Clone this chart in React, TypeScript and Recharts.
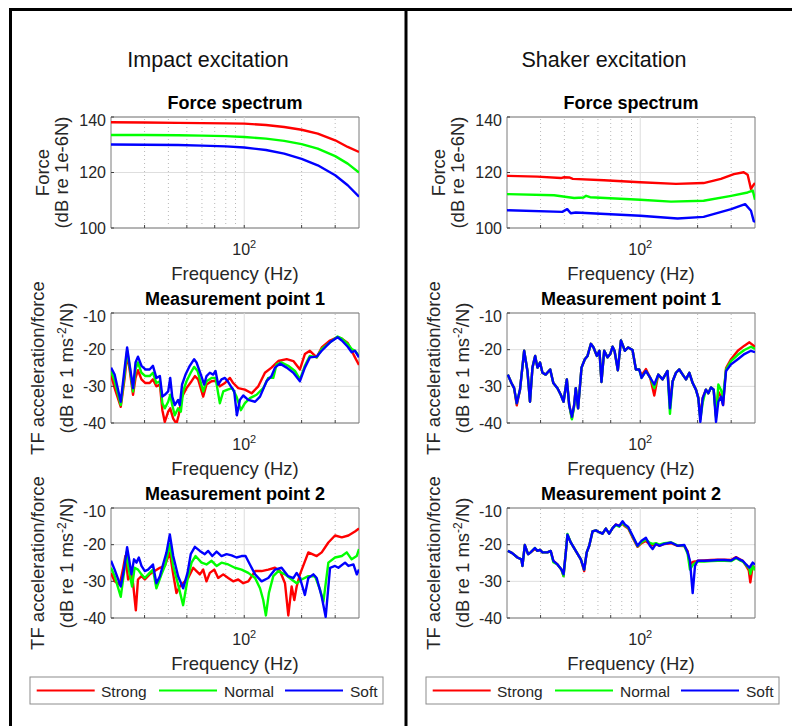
import {
  CartesianGrid,
  Line,
  LineChart,
  ReferenceArea,
  ReferenceLine,
  XAxis,
  YAxis,
} from "recharts";

type Pt = [number, number];

const FONT = '"Liberation Sans", Arial, Helvetica, sans-serif';

// frequency axis (Hz, log)
const freqDomain: [number, number] = [20, 400];
const minorFreqs = [30, 40, 50, 60, 70, 80, 90, 200, 300];
const freqTicks = [30, 40, 50, 60, 70, 80, 90, 100, 200, 300];

const forceDomain: [number, number] = [100, 140];
const forceTicks = [100, 120, 140];
const tfDomain: [number, number] = [-40, -10];
const tfTicks = [-40, -30, -20, -10];

const seriesNames = ["Strong", "Normal", "Soft"];
const seriesColors = ["#ff0000", "#00ff00", "#0000ff"];
const columnTitles = ["Impact excitation", "Shaker excitation"];
const panelTitles = ["Force spectrum", "Measurement point 1", "Measurement point 2"];

// ---- impact excitation ----
const impactForceStrong: Pt[] = [
  [20, 138.1], [30, 138.0], [45, 137.9], [60, 137.8], [80, 137.7], [100, 137.6],
  [130, 137.1], [162, 136.4], [200, 135.4], [243, 134.0], [300, 131.6], [349, 129.2], [400, 127.4],
];
const impactForceNormal: Pt[] = [
  [20, 133.5], [30, 133.5], [45, 133.4], [60, 133.3], [80, 133.1], [100, 132.8],
  [130, 132.2], [162, 131.4], [200, 130.2], [243, 128.6], [300, 125.9], [349, 123.2], [400, 120.0],
];
const impactForceSoft: Pt[] = [
  [20, 130.1], [30, 130.0], [45, 129.9], [60, 129.7], [80, 129.4], [100, 129.0],
  [130, 128.1], [162, 126.8], [200, 124.9], [243, 122.6], [300, 119.0], [349, 115.4], [400, 111.3],
];

const impactP1Strong: Pt[] = [
  [20, -26.8], [20.9, -30.5], [22.5, -35.6], [23.6, -27.7], [24.3, -21.2], [25.1, -25.8], [26.1, -32.3],
  [26.9, -27.7], [27.7, -25.6], [28.9, -28.1], [30.3, -29.1], [31.9, -29.1], [33.2, -28.1], [34.6, -30.0],
  [36.1, -29.5], [37.2, -36.5], [38.3, -39.7], [39.9, -36.9], [40.9, -36.0], [42.4, -38.8], [44.1, -40.2],
  [45.3, -37.9], [47.2, -32.8], [49.8, -30.5], [52.9, -28.6], [55.1, -27.2], [57.3, -28.1], [60.9, -32.8],
  [63.4, -29.5], [67.4, -28.6], [71.6, -28.4], [74.5, -30.0], [79.2, -29.1], [84.1, -27.7], [87.5, -29.1],
  [93.0, -30.5], [100.8, -30.9], [109.3, -31.9], [118.5, -30.0], [128.4, -26.3], [139, -24.9], [150.9, -23.1],
  [167, -22.6], [181, -23.1], [196, -25.4], [208, -21.2], [221, -20.3], [240, -22.1], [255, -19.4],
  [282, -17.5], [309, -16.6], [325, -17.0], [349, -18.2], [366, -20.3], [381, -22.1], [400, -24.2],
];
const impactP1Normal: Pt[] = [
  [20, -25.8], [20.9, -28.6], [22.5, -35.1], [23.6, -26.3], [24.3, -20.3], [25.1, -24.9], [26.1, -31.4],
  [26.9, -25.4], [27.7, -23.5], [28.9, -26.3], [30.3, -27.2], [31.9, -27.2], [33.2, -26.3], [34.6, -29.1],
  [36.1, -28.6], [37.2, -34.6], [38.3, -36.0], [39.9, -34.2], [40.9, -32.3], [41.9, -35.1], [43.2, -37.9],
  [45.0, -36.0], [46.5, -36.9], [47.8, -31.4], [49.8, -28.6], [52.4, -26.3], [54.6, -24.7], [56.9, -25.8],
  [60.9, -31.4], [63.4, -28.6], [67.4, -27.7], [70.7, -27.7], [74.5, -34.6], [77.6, -31.4], [81.8, -30.9],
  [86.5, -30.5], [91.1, -32.8], [96.0, -36.5], [100.8, -34.6], [107.1, -33.2], [116.1, -32.3], [125.8, -30.5],
  [133.7, -27.7], [142, -27.7], [147.9, -24.0], [157, -23.5], [170, -24.4], [184.6, -25.8], [196, -28.1],
  [208, -24.4], [221, -21.7], [240, -22.1], [255, -19.8], [282, -18.0], [309, -16.4], [325, -17.0],
  [349, -18.4], [366, -19.8], [381, -20.3], [400, -21.7],
];
const impactP1Soft: Pt[] = [
  [20, -24.9], [20.9, -26.8], [22.5, -34.2], [23.6, -24.9], [24.3, -19.4], [25.1, -24.4], [26.1, -30.5],
  [26.9, -23.5], [27.7, -21.9], [28.9, -24.4], [30.3, -25.4], [31.9, -25.4], [33.2, -24.4], [34.6, -27.7],
  [36.1, -27.2], [37.2, -32.8], [38.3, -32.3], [39.9, -31.4], [40.9, -27.7], [41.9, -32.8], [43.2, -35.1],
  [45.0, -33.7], [45.9, -35.1], [47.2, -29.5], [49.2, -26.8], [51.8, -24.4], [54.6, -22.6], [56.2, -23.5],
  [59.2, -26.8], [61.6, -29.5], [63.4, -27.2], [66.0, -26.3], [68.7, -26.8], [70.7, -25.8], [73.0, -29.5],
  [76.0, -28.1], [79.2, -27.7], [81.8, -28.6], [85.1, -30.0], [88.6, -31.4], [91.5, -37.9], [94.9, -33.7],
  [98.8, -32.5], [105, -33.7], [114, -34.2], [121, -32.8], [131, -28.6], [139, -27.2], [145, -24.9],
  [154, -23.8], [167, -24.9], [181, -26.3], [196, -28.6], [208, -24.9], [221, -22.1], [240, -21.9],
  [255, -20.3], [282, -18.0], [309, -16.6], [325, -17.5], [349, -19.2], [366, -20.7], [381, -20.3], [400, -22.1],
];

const impactP2Strong: Pt[] = [
  [20, -27.7], [20.9, -30.0], [22.2, -30.9], [23.1, -26.8], [23.8, -23.1], [24.6, -29.5], [25.6, -28.1],
  [26.1, -30.5], [27.0, -37.9], [27.7, -29.5], [28.9, -28.6], [30.1, -29.5], [31.9, -28.1], [33.9, -27.2],
  [36.1, -26.3], [38.3, -25.8], [40.7, -22.1], [42.4, -28.1], [44.1, -33.2], [45.9, -31.4], [47.8, -30.5],
  [50.8, -29.1], [54.0, -26.3], [56.2, -27.2], [58.5, -28.1], [60.9, -26.8], [63.4, -30.0], [66.0, -27.7],
  [69.6, -26.8], [73.0, -29.1], [77.6, -28.1], [82.4, -29.1], [87.5, -30.0], [93.0, -29.5], [98.8, -30.5],
  [105, -30.0], [114, -27.2], [123.3, -27.2], [133.7, -26.8], [145, -26.3], [154, -27.2], [163.6, -30.5],
  [170.3, -39.3], [177.3, -31.4], [183.1, -35.1], [188.4, -31.4], [196, -28.1], [216.9, -22.1], [240, -23.1],
  [255, -22.1], [276.3, -19.4], [299.5, -17.5], [325, -18.0], [352, -17.5], [381, -16.4], [400, -15.6],
];
const impactP2Normal: Pt[] = [
  [20, -26.3], [20.9, -28.6], [22.5, -34.2], [23.4, -27.7], [24.1, -22.1], [24.8, -26.8], [25.8, -31.4],
  [26.6, -26.3], [27.7, -26.8], [28.9, -28.1], [30.1, -29.1], [31.9, -27.7], [33.2, -26.8], [34.6, -31.9],
  [36.8, -28.1], [38.6, -25.4], [40.7, -19.8], [42.4, -25.8], [45.0, -30.9], [47.8, -36.5], [50.4, -29.5],
  [52.9, -24.9], [55.5, -23.1], [59.7, -24.9], [63.4, -25.4], [67.4, -24.4], [71.6, -25.8], [76.0, -24.9],
  [82.4, -25.4], [89.3, -26.3], [96.8, -26.8], [105, -27.7], [114, -29.1], [121, -31.9], [125.8, -35.1],
  [129.9, -39.3], [134.7, -33.2], [142, -28.6], [150.9, -27.2], [163.6, -28.1], [177.3, -29.5], [188.4, -30.5],
  [200, -29.5], [216.9, -28.6], [235, -28.6], [250, -32.3], [260.1, -35.6], [276.3, -24.9], [299.5, -23.5],
  [325, -23.1], [345, -22.1], [366, -24.0], [389, -23.1], [400, -21.2],
];
const impactP2Soft: Pt[] = [
  [20, -24.4], [20.9, -26.8], [22.5, -31.4], [23.4, -26.8], [24.3, -20.7], [24.9, -24.0], [25.6, -28.1],
  [26.4, -24.0], [27.2, -24.9], [28.0, -23.5], [28.9, -25.8], [30.1, -27.2], [31.3, -26.8], [33.2, -25.4],
  [34.6, -30.5], [36.1, -28.6], [37.5, -25.4], [39.1, -22.1], [40.7, -17.2], [42.4, -23.1], [45.0, -28.6],
  [47.8, -31.9], [50.4, -27.7], [52.4, -22.6], [55.1, -20.6], [58.5, -21.7], [62.1, -22.6], [64.7, -21.7],
  [68.0, -23.1], [71.6, -21.9], [76.0, -23.1], [80.8, -22.6], [85.8, -22.9], [91.1, -23.5], [96.8, -23.1],
  [101.6, -23.1], [107.1, -25.4], [114, -28.1], [123.3, -30.0], [133.7, -29.1], [145, -26.8], [157, -26.3],
  [170, -28.6], [181, -29.1], [188.4, -27.7], [196, -29.1], [208, -33.7], [216.9, -29.1], [230.4, -28.1],
  [240, -29.1], [255, -34.2], [267.5, -39.7], [282, -26.3], [299.5, -25.8], [311.8, -26.3], [338, -24.9],
  [352, -25.8], [374, -25.4], [389.3, -28.1], [400, -26.8],
];

// ---- shaker excitation ----
const shakerForceStrong: Pt[] = [
  [20, 118.8], [28.9, 118.5], [38.3, 118.0], [39.9, 118.3], [42.4, 118.2], [44.3, 117.7], [64.5, 117.2],
  [100, 116.5], [154, 115.9], [215, 116.2], [265, 117.7], [310, 119.4], [349, 120.1], [366, 119.2],
  [381, 114.1], [390, 115.2], [400, 116.2],
];
const shakerForceNormal: Pt[] = [
  [20, 112.2], [35.3, 111.8], [45, 110.8], [50.4, 111.0], [52, 111.6], [54.6, 111.1], [100, 110.2],
  [145, 109.5], [215, 109.8], [300, 111.6], [366, 112.8], [389, 113.5], [400, 110.2],
];
const shakerForceSoft: Pt[] = [
  [20, 106.4], [39, 105.8], [41.4, 106.8], [43.2, 105.3], [45.9, 105.6], [100, 104.4], [157, 103.4],
  [215, 104.0], [300, 106.8], [355, 108.6], [381, 106.2], [394, 102.5], [400, 102.2],
];

const shakerP1Strong: Pt[] = [
  [20.2, -26.8], [21.1, -29.1], [21.8, -30.5], [22.5, -35.2], [23.4, -30.9], [24.6, -20.3], [25.6, -25.8],
  [26.4, -34.2], [27.2, -24.9], [28.1, -21.7], [28.9, -24.9], [29.8, -23.5], [30.7, -26.3], [31.9, -26.8],
  [33.7, -25.4], [35.0, -29.1], [36.8, -30.5], [38.3, -32.3], [39.6, -34.2], [41.2, -28.1], [42.4, -35.1],
  [43.8, -38.8], [45.0, -35.1], [45.9, -30.5], [47.2, -36.0], [49.2, -24.9], [51.2, -22.6], [52.9, -21.7],
  [55.1, -18.4], [56.9, -19.4], [59.2, -21.7], [61.1, -20.3], [62.6, -28.8], [64.7, -20.3], [67.4, -22.1],
  [69.6, -21.2], [71.6, -19.2], [73.3, -20.3], [76.3, -25.6], [79.2, -17.5], [83.1, -20.3], [86.5, -19.4],
  [91.1, -20.1], [94.9, -25.4], [98.8, -25.4], [101.6, -27.0], [107.1, -25.3], [112.9, -27.7], [118.5, -32.5],
  [124.3, -26.8], [131, -28.1], [139, -25.8], [143.2, -34.5], [147.9, -28.6], [154, -26.3], [160.3, -25.4],
  [167, -26.8], [173.8, -28.1], [181, -26.3], [188.4, -29.1], [196, -30.9], [201.7, -33.0], [206.7, -38.5],
  [212.6, -33.2], [221, -30.9], [227.7, -31.9], [235, -30.3], [242.8, -30.9], [249.8, -38.0], [256.9, -31.5],
  [265.3, -32.8], [271.9, -35.1], [282, -25.0], [299.5, -22.6], [325, -20.3], [351.9, -18.9], [373.9, -18.0],
  [400, -19.2],
];
const shakerP1Normal: Pt[] = [
  [20.2, -26.8], [21.1, -29.1], [21.8, -30.5], [22.5, -34.6], [23.4, -30.9], [24.6, -20.3], [25.6, -25.8],
  [26.4, -34.2], [27.2, -24.9], [28.1, -21.7], [28.9, -24.9], [29.8, -23.5], [30.7, -26.3], [31.9, -26.8],
  [33.7, -25.4], [35.0, -29.1], [36.8, -30.5], [38.3, -32.3], [39.6, -34.2], [41.2, -28.1], [42.4, -35.1],
  [43.8, -39.0], [45.0, -35.5], [45.9, -30.5], [47.2, -36.0], [49.2, -24.9], [51.2, -22.6], [52.9, -21.7],
  [55.1, -18.4], [56.9, -19.4], [59.2, -21.7], [61.1, -20.3], [62.6, -28.8], [64.7, -20.3], [67.4, -22.1],
  [69.6, -21.2], [71.6, -19.2], [73.3, -20.3], [76.3, -25.6], [79.2, -17.5], [83.1, -20.3], [86.5, -19.4],
  [91.1, -20.1], [94.9, -25.4], [98.8, -25.4], [101.6, -27.7], [107.1, -25.8], [112.9, -27.7], [118.5, -30.5],
  [124.3, -26.8], [131, -28.1], [139, -25.8], [143.2, -37.5], [147.9, -28.6], [154, -26.3], [160.3, -25.4],
  [167, -26.8], [173.8, -28.1], [181, -26.3], [188.4, -29.1], [196, -30.9], [201.7, -33.2], [206.7, -39.0],
  [212.6, -34.5], [221, -30.9], [227.7, -31.9], [235, -30.3], [242.8, -30.9], [249.8, -38.5], [256.9, -29.5],
  [265.3, -31.0], [271.9, -33.0], [282, -25.4], [299.5, -23.1], [325, -21.4], [351.9, -20.1], [381, -19.2],
  [400, -19.8],
];
const shakerP1Soft: Pt[] = [
  [20.2, -26.8], [21.1, -29.1], [21.8, -30.5], [22.5, -34.6], [23.4, -30.9], [24.6, -20.3], [25.6, -25.8],
  [26.4, -34.2], [27.2, -24.9], [28.1, -21.7], [28.9, -24.9], [29.8, -23.5], [30.7, -26.3], [31.9, -26.8],
  [33.7, -25.4], [35.0, -29.1], [36.8, -30.5], [38.3, -32.3], [39.6, -34.2], [41.2, -28.1], [42.4, -35.1],
  [43.8, -38.3], [45.0, -35.1], [45.9, -30.5], [47.2, -36.0], [49.2, -24.9], [51.2, -22.6], [52.9, -21.7],
  [55.1, -18.4], [56.9, -19.4], [59.2, -21.7], [61.1, -20.3], [62.6, -28.8], [64.7, -20.3], [67.4, -22.1],
  [69.6, -21.2], [71.6, -19.2], [73.3, -20.3], [76.3, -25.6], [79.2, -17.5], [83.1, -20.3], [86.5, -19.4],
  [91.1, -20.1], [94.9, -25.4], [98.8, -25.4], [101.6, -27.7], [107.1, -25.8], [112.9, -27.7], [118.5, -29.5],
  [124.3, -26.8], [131, -28.1], [139, -25.8], [143.2, -36.0], [147.9, -28.6], [154, -26.3], [160.3, -25.4],
  [167, -26.8], [173.8, -28.1], [181, -26.3], [188.4, -29.1], [196, -30.9], [201.7, -33.2], [206.7, -39.7],
  [212.6, -33.2], [221, -30.9], [227.7, -31.9], [235, -30.3], [242.8, -30.9], [249.8, -39.7], [256.9, -34.2],
  [265.3, -32.8], [271.9, -35.1], [282, -25.8], [299.5, -24.0], [325, -22.6], [351.9, -21.2], [381, -20.3],
  [400, -20.7],
];

const shakerP2Strong: Pt[] = [
  [20.2, -21.7], [21.3, -22.3], [22.7, -23.5], [23.8, -24.0], [24.1, -25.8], [24.8, -20.1], [25.8, -22.6],
  [26.6, -22.1], [28.0, -21.2], [28.9, -21.7], [29.8, -21.4], [30.7, -22.1], [32.6, -22.1], [33.9, -21.7],
  [35.0, -24.4], [36.8, -25.4], [38.6, -26.8], [39.6, -28.5], [40.7, -22.1], [41.5, -17.3], [43.2, -19.4],
  [45.9, -21.7], [48.8, -24.0], [50.8, -27.2], [52.4, -22.1], [54.0, -20.3], [56.2, -16.4], [58.5, -16.1],
  [60.9, -16.6], [63.4, -17.0], [66.0, -15.6], [68.7, -17.0], [71.6, -15.5], [74.5, -14.5], [77.6, -14.9],
  [80.8, -14.3], [83.1, -15.0], [86.5, -15.6], [91.1, -18.0], [96.8, -20.6], [101.6, -19.6], [107.1, -19.0],
  [112.4, -20.0], [116.1, -20.2], [121, -19.8], [125.8, -20.3], [133.7, -19.8], [145, -19.6], [157, -20.3],
  [170.3, -20.4], [177.3, -21.8], [182.3, -25.5], [188.4, -24.7], [193.8, -24.6], [200, -24.4], [216.9, -24.3],
  [235, -24.2], [255, -24.1], [276.3, -24.1], [299.5, -24.2], [318.2, -23.4], [331.3, -23.9], [345, -24.4],
  [359.3, -25.8], [371, -27.0], [378, -30.3], [389, -25.8], [400, -26.5],
];
const shakerP2Normal: Pt[] = [
  [20.2, -21.7], [21.3, -22.3], [22.7, -23.5], [23.8, -24.0], [24.1, -25.8], [24.8, -20.1], [25.8, -22.6],
  [26.6, -22.1], [28.0, -20.9], [28.9, -21.7], [29.8, -21.4], [30.7, -22.1], [32.6, -22.1], [33.9, -21.7],
  [35.0, -24.8], [36.8, -25.4], [38.6, -26.8], [39.6, -28.6], [40.7, -22.1], [41.5, -17.1], [43.2, -19.4],
  [45.9, -21.7], [48.8, -24.0], [50.8, -26.8], [52.4, -22.1], [54.0, -20.3], [56.2, -16.4], [58.5, -16.1],
  [60.9, -16.6], [63.4, -17.0], [66.0, -15.6], [68.7, -17.0], [71.6, -15.5], [74.5, -14.7], [77.6, -15.1],
  [80.8, -14.0], [83.1, -14.8], [86.5, -15.4], [91.1, -17.7], [96.8, -20.4], [101.6, -19.3], [107.1, -18.6],
  [112.4, -19.5], [116.1, -19.8], [121, -19.6], [125.8, -20.0], [133.7, -19.6], [145, -19.4], [157, -20.2],
  [170.3, -20.3], [177.3, -22.5], [182.3, -26.8], [188.4, -25.6], [193.8, -25.0], [200, -24.6], [216.9, -24.6],
  [235, -24.5], [255, -24.4], [276.3, -24.4], [299.5, -24.5], [318.2, -23.7], [331.3, -24.2], [345, -24.6],
  [359.3, -25.6], [374, -26.6], [378, -28.0], [389, -25.8], [400, -27.0],
];
const shakerP2Soft: Pt[] = [
  [20.2, -21.7], [21.3, -22.3], [22.7, -23.5], [23.8, -24.0], [24.1, -25.8], [24.8, -20.1], [25.8, -22.6],
  [26.6, -22.1], [28.0, -20.9], [28.9, -21.7], [29.8, -21.4], [30.7, -22.1], [32.6, -22.1], [33.9, -21.7],
  [35.0, -24.4], [36.8, -25.4], [38.6, -26.8], [39.6, -28.1], [40.7, -22.1], [41.5, -17.3], [43.2, -19.4],
  [45.9, -21.7], [48.8, -24.0], [50.8, -26.8], [52.4, -22.1], [54.0, -20.3], [56.2, -16.4], [58.5, -16.1],
  [60.9, -16.6], [63.4, -17.0], [66.0, -15.6], [68.7, -17.0], [71.6, -15.5], [74.5, -14.5], [77.6, -14.9],
  [80.8, -13.6], [83.1, -14.5], [86.5, -15.2], [91.1, -17.5], [96.8, -20.3], [101.6, -18.9], [107.1, -18.1],
  [112.4, -20.3], [116.1, -21.2], [121, -19.8], [125.8, -20.3], [133.7, -19.8], [145, -19.4], [157, -20.3],
  [170.3, -20.1], [177.3, -22.1], [182.3, -24.4], [188.4, -33.2], [193.8, -25.8], [200, -24.4], [216.9, -24.4],
  [235, -24.3], [255, -24.2], [276.3, -24.2], [299.5, -24.3], [318.2, -23.5], [331.3, -24.0], [345, -24.4],
  [359.3, -25.4], [374, -26.3], [389, -24.9], [400, -25.4],
];

// layout
const PLOT_W = 248;
const AX_W = 50;
const AX_H = 40;
const PAD = 6;
const colX = [111, 507];
const rows = [
  { top: 117, h: 111, domain: forceDomain, ticks: forceTicks, ylab: ["Force", "(dB re 1e-6N)"] },
  { top: 313, h: 110, domain: tfDomain, ticks: tfTicks, ylab: ["TF acceleration/force", ""] },
  { top: 508, h: 110, domain: tfDomain, ticks: tfTicks, ylab: ["TF acceleration/force", ""] },
];
const panels: Pt[][][][] = [
  [
    [impactForceStrong, impactForceNormal, impactForceSoft],
    [impactP1Strong, impactP1Normal, impactP1Soft],
    [impactP2Strong, impactP2Normal, impactP2Soft],
  ],
  [
    [shakerForceStrong, shakerForceNormal, shakerForceSoft],
    [shakerP1Strong, shakerP1Normal, shakerP1Soft],
    [shakerP2Strong, shakerP2Normal, shakerP2Soft],
  ],
];

// only decades get a label (10^2); the other ticks are minor
function FreqTick(props: any) {
  const { x, y, payload } = props;
  const exp = Math.log10(payload.value);
  if (Math.abs(exp - Math.round(exp)) > 1e-6) return <g />;
  return (
    <text x={x} y={y + 27} textAnchor="middle" fill="#262626" fontSize={16} fontFamily={FONT}>
      10
      <tspan dy={-7} fontSize={11}>
        {Math.round(exp)}
      </tspan>
    </text>
  );
}

const tickStroke = { stroke: "#404040" };

function Panel({ left, top, h, domain, ticks, series }: any) {
  return (
    <div style={{ position: "absolute", left: left - AX_W, top: top - PAD }}>
      <LineChart
        width={AX_W + PLOT_W + PAD}
        height={PAD + h + AX_H}
        margin={{ top: PAD, right: PAD, bottom: 0, left: 0 }}
      >
        <CartesianGrid vertical={false} stroke="#dedede" />
        {minorFreqs.map((f) => (
          <ReferenceLine key={f} x={f} stroke="#b8b8b8" strokeDasharray="1 3" />
        ))}
        <ReferenceLine x={100} stroke="#dedede" />
        <XAxis
          dataKey="f"
          type="number"
          scale="log"
          domain={freqDomain}
          ticks={freqTicks}
          allowDataOverflow
          height={AX_H}
          axisLine={false}
          tickLine={tickStroke}
          tickSize={-3}
          tickMargin={3}
          tick={<FreqTick />}
        />
        <XAxis
          xAxisId="top"
          orientation="top"
          dataKey="f"
          type="number"
          scale="log"
          domain={freqDomain}
          ticks={freqTicks}
          allowDataOverflow
          height={0}
          axisLine={false}
          tickLine={tickStroke}
          tickSize={-3}
          tick={false}
        />
        <YAxis
          type="number"
          domain={domain}
          ticks={ticks}
          allowDataOverflow
          width={AX_W}
          axisLine={false}
          tickLine={tickStroke}
          tickSize={-3}
          tickMargin={8}
          tick={{ fill: "#262626", fontSize: 16, fontFamily: FONT }}
        />
        <YAxis
          yAxisId="right"
          orientation="right"
          type="number"
          domain={domain}
          ticks={ticks}
          allowDataOverflow
          width={0}
          axisLine={false}
          tickLine={tickStroke}
          tickSize={-3}
          tick={false}
        />
        {series.map((s: Pt[], i: number) => (
          <Line
            key={seriesNames[i]}
            data={s.map(([f, v]) => ({ f, v }))}
            dataKey="v"
            type="linear"
            stroke={seriesColors[i]}
            strokeWidth={2.4}
            strokeLinejoin="round"
            dot={false}
            isAnimationActive={false}
          />
        ))}
        <ReferenceArea
          x1={freqDomain[0]}
          x2={freqDomain[1]}
          y1={domain[0]}
          y2={domain[1]}
          fill="none"
          stroke="#7a7a7a"
          strokeWidth={1}
        />
      </LineChart>
    </div>
  );
}

function ColumnText({ col }: { col: number }) {
  const dx = col * 396;
  const cx = colX[col] + PLOT_W / 2;
  const legendX = [36.7, 159, 285];
  const legendTextX = [101, 224, 350];
  return (
    <g fontFamily={FONT}>
      <text x={208 + dx} y={67} textAnchor="middle" fontSize={21.5} fill="#111">
        {columnTitles[col]}
      </text>
      {rows.map((r, i) => {
        const cy = r.top + r.h / 2;
        const bottom = r.top + r.h;
        return (
          <g key={i}>
            <text x={cx} y={r.top - 8} textAnchor="middle" fontSize={18} fontWeight="bold" fill="#000">
              {panelTitles[i]}
            </text>
            <text x={cx} y={bottom + 52} textAnchor="middle" fontSize={18.5} fill="#262626">
              Frequency (Hz)
            </text>
            {i === 0 ? (
              <>
                <text x={49 + dx} y={cy} transform={`rotate(-90 ${49 + dx} ${cy})`} textAnchor="middle" fontSize={18.5} fill="#262626">
                  {r.ylab[0]}
                </text>
                <text x={68 + dx} y={cy} transform={`rotate(-90 ${68 + dx} ${cy})`} textAnchor="middle" fontSize={18.5} fill="#262626">
                  {r.ylab[1]}
                </text>
              </>
            ) : (
              <>
                <text x={44 + dx} y={cy} transform={`rotate(-90 ${44 + dx} ${cy})`} textAnchor="middle" fontSize={18.5} fill="#262626">
                  {r.ylab[0]}
                </text>
                <text x={73 + dx} y={cy} transform={`rotate(-90 ${73 + dx} ${cy})`} textAnchor="middle" fontSize={18.5} fill="#262626">
                  (dB re 1 ms
                  <tspan dy={-7} fontSize={12}>-2</tspan>
                  <tspan dy={7}>/N)</tspan>
                </text>
              </>
            )}
          </g>
        );
      })}
      <rect x={30 + dx} y={677} width={353} height={27} fill="#fff" stroke="#8c8c8c" strokeWidth={1} />
      {seriesNames.map((n, i) => (
        <g key={n}>
          <line x1={legendX[i] + dx} x2={legendX[i] + 58 + dx} y1={690.5} y2={690.5} stroke={seriesColors[i]} strokeWidth={2} />
          <text x={legendTextX[i] + dx} y={696.5} fontSize={15.5} fill="#262626">
            {n}
          </text>
        </g>
      ))}
    </g>
  );
}

export default function App() {
  return (
    <div style={{ position: "absolute", left: 0, top: 0, width: 792, height: 726, background: "#fff", overflow: "hidden" }}>
      <svg width={792} height={726} style={{ position: "absolute", left: 0, top: 0 }}>
        <line x1={10.5} x2={10.5} y1={8} y2={726} stroke="#000" strokeWidth={3} />
        <line x1={9} x2={792} y1={9.5} y2={9.5} stroke="#000" strokeWidth={3} />
        <line x1={406} x2={406} y1={8} y2={726} stroke="#000" strokeWidth={3} />
        <ColumnText col={0} />
        <ColumnText col={1} />
      </svg>
      {colX.map((left, c) =>
        rows.map((r, i) => (
          <Panel
            key={`${c}-${i}`}
            left={left}
            top={r.top}
            h={r.h}
            domain={r.domain}
            ticks={r.ticks}
            series={panels[c][i]}
          />
        ))
      )}
    </div>
  );
}
